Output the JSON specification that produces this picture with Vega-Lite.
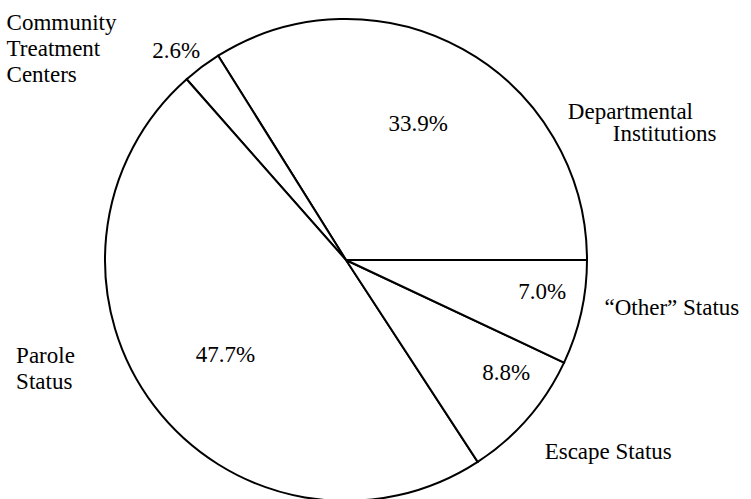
{
  "$schema": "https://vega.github.io/schema/vega-lite/v6.json",
  "autosize": "none",
  "width": 692,
  "height": 520,
  "padding": {"left": 0, "top": 0, "right": 59, "bottom": 0},
  "background": "white",
  "config": {
    "view": {"stroke": null},
    "text": {"font": "Liberation Serif", "fontSize": 23, "color": "black", "baseline": "middle"}
  },
  "data": {
    "values": [
      {"category": "Departmental Institutions", "share": 0.339, "name": ["Departmental", "Institutions"]},
      {"category": "Community Treatment Centers", "share": 0.026, "name": ["Community", "Treatment", "Centers"]},
      {"category": "Parole Status", "share": 0.477, "name": ["Parole", "Status"]},
      {"category": "Escape Status", "share": 0.088, "name": ["Escape Status"]},
      {"category": "Other Status", "share": 0.070, "name": ["“Other” Status"]}
    ]
  },
  "transform": [{"window": [{"op": "row_number", "as": "seq"}]}],
  "encoding": {
    "theta": {"field": "share", "type": "quantitative", "stack": true, "scale": {"range": [1.5708, -4.7124]}},
    "order": {"field": "seq", "type": "quantitative"}
  },
  "layer": [
    {
      "mark": {"type": "arc", "outerRadius": 241, "fill": "white", "stroke": "black", "strokeWidth": 2},
      "encoding": {}
    },
    {
      "mark": {"type": "text", "font": "Liberation Serif", "fontSize": 23, "radius": 153, "dx": -2, "dy": -2, "align": "center"},
      "encoding": {"text": {"condition": {"test": "datum.category === 'Departmental Institutions'", "field": "share", "type": "quantitative", "format": ".1%"}, "value": ""}}
    },
    {
      "mark": {"type": "text", "font": "Liberation Serif", "fontSize": 23, "radius": 269, "dx": -9, "dy": 7, "align": "center"},
      "encoding": {"text": {"condition": {"test": "datum.category === 'Community Treatment Centers'", "field": "share", "type": "quantitative", "format": ".1%"}, "value": ""}}
    },
    {
      "mark": {"type": "text", "font": "Liberation Serif", "fontSize": 23, "radius": 154, "dx": 2, "dy": 2, "align": "center"},
      "encoding": {"text": {"condition": {"test": "datum.category === 'Parole Status'", "field": "share", "type": "quantitative", "format": ".1%"}, "value": ""}}
    },
    {
      "mark": {"type": "text", "font": "Liberation Serif", "fontSize": 23, "radius": 195, "dx": 13, "dy": -15, "align": "center"},
      "encoding": {"text": {"condition": {"test": "datum.category === 'Escape Status'", "field": "share", "type": "quantitative", "format": ".1%"}, "value": ""}}
    },
    {
      "mark": {"type": "text", "font": "Liberation Serif", "fontSize": 23, "radius": 199, "dx": 2, "dy": -11, "align": "center"},
      "encoding": {"text": {"condition": {"test": "datum.category === 'Other Status'", "field": "share", "type": "quantitative", "format": ".1%"}, "value": ""}}
    },
    {
      "mark": {"type": "text", "font": "Liberation Serif", "radius": 270, "dx": -178, "dy": -21, "align": "left", "fontSize": 23, "lineHeight": 26},
      "encoding": {"text": {"condition": {"test": "datum.category === 'Community Treatment Centers'", "field": "name", "type": "nominal"}, "value": ""}}
    },
    {
      "mark": {"type": "text", "font": "Liberation Serif", "radius": 270, "dx": 91, "dy": 88, "align": "left", "fontSize": 23},
      "encoding": {"text": {"condition": {"test": "datum.category === 'Departmental Institutions'", "field": "name[0]", "type": "nominal"}, "value": ""}}
    },
    {
      "mark": {"type": "text", "font": "Liberation Serif", "radius": 270, "dx": 136, "dy": 110, "align": "left", "fontSize": 23},
      "encoding": {"text": {"condition": {"test": "datum.category === 'Departmental Institutions'", "field": "name[1]", "type": "nominal"}, "value": ""}}
    },
    {
      "mark": {"type": "text", "font": "Liberation Serif", "radius": 270, "dx": -115, "dy": -67, "align": "left", "fontSize": 23, "lineHeight": 26},
      "encoding": {"text": {"condition": {"test": "datum.category === 'Parole Status'", "field": "name", "type": "nominal"}, "value": ""}}
    },
    {
      "mark": {"type": "text", "font": "Liberation Serif", "radius": 270, "dx": -5, "dy": 15, "align": "left", "fontSize": 23},
      "encoding": {"text": {"condition": {"test": "datum.category === 'Escape Status'", "field": "name", "type": "nominal"}, "value": ""}}
    },
    {
      "mark": {"type": "text", "font": "Liberation Serif", "radius": 270, "dx": -5, "dy": -11, "align": "left", "fontSize": 23},
      "encoding": {"text": {"condition": {"test": "datum.category === 'Other Status'", "field": "name", "type": "nominal"}, "value": ""}}
    }
  ]
}
